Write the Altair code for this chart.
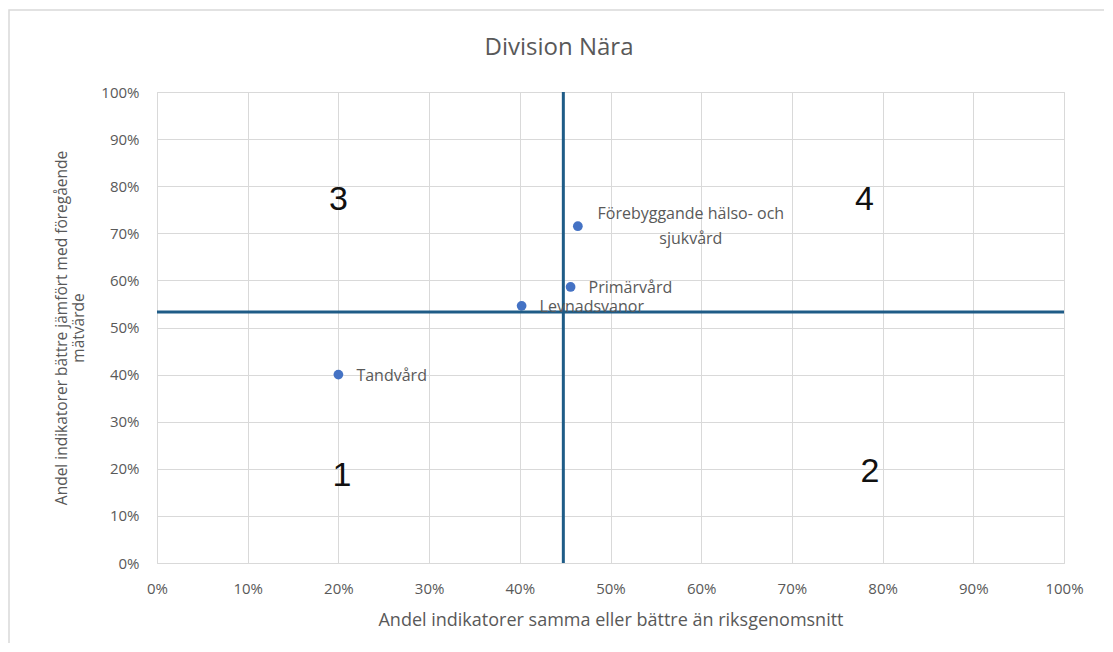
import altair as alt
import pandas as pd

names = ["Tandvård", "Levnadsvanor", "Primärvård", "Förebyggande hälso- och\nsjukvård"]
x_vals = [0.20, 0.402, 0.456, 0.464]
y_vals = [0.40, 0.546, 0.586, 0.715]

ref_x = [0.448]
ref_y = [0.533]

quad_labels = ["1", "2", "3", "4"]
quad_x = [0.204, 0.786, 0.20, 0.78]
quad_y = [0.185, 0.193, 0.77, 0.77]

chart_title = ["Division Nära"]

ticks = [i / 10 for i in range(11)]

df = pd.DataFrame({"name": names, "x": x_vals, "y": y_vals})
simple = df.iloc[:3]
multi = df.iloc[3:]
quad = pd.DataFrame({"q": quad_labels, "x": quad_x, "y": quad_y})
rx = pd.DataFrame({"x": ref_x})
ry = pd.DataFrame({"y": ref_y})
tdf = pd.DataFrame({"t": chart_title})

FONT = "Open Sans"
GREY = "#595959"

xs = alt.Scale(domain=[0, 1], nice=False)
ys = alt.Scale(domain=[0, 1], nice=False)

X = alt.X("x:Q", scale=xs, axis=alt.Axis(
    values=ticks, format=".0%", title="Andel indikatorer samma eller bättre än riksgenomsnitt",
    labelPadding=18, titlePadding=15, grid=True, titleFontSize=18, labelFlush=False))
Y = alt.Y("y:Q", scale=ys, axis=alt.Axis(
    values=ticks, format=".0%", title=["Andel indikatorer bättre jämfört med föregående", "mätvärde"],
    labelPadding=18, titlePadding=14, grid=True, titleFontSize=15.5, labelFlush=False))

frame = alt.Chart(rx).mark_rect(fill=None, stroke="#d9d9d9", strokeWidth=1.5).encode(
    x=alt.value(-148), x2=alt.value(951), y=alt.value(-82), y2=alt.value(570))

title = alt.Chart(tdf).mark_text(fontSize=24, font=FONT, color=GREY, align="center",
                                 baseline="middle").encode(
    x=alt.value(402), y=alt.value(-44), text="t:N")

points = alt.Chart(df).mark_circle(size=95, color="#4472c4", opacity=1).encode(x=X, y=Y)

labels = alt.Chart(simple).mark_text(align="left", baseline="middle", dx=18, dy=1,
                                     fontSize=16, font=FONT, color=GREY).encode(
    x="x:Q", y="y:Q", text="name:N")

labels2 = alt.Chart(multi).mark_text(align="center", baseline="middle", dx=113, dy=-12,
                                     lineBreak="\n", lineHeight=25,
                                     fontSize=16, font=FONT, color=GREY).encode(
    x="x:Q", y="y:Q", text="name:N")

vline = alt.Chart(rx).mark_rule(color="#1f5c87", strokeWidth=3).encode(x="x:Q")
hline = alt.Chart(ry).mark_rule(color="#1f5c87", strokeWidth=3).encode(y="y:Q")

quads = alt.Chart(quad).mark_text(fontSize=34, font="Liberation Sans", color="#111111",
                                  baseline="middle", align="center").encode(
    x="x:Q", y="y:Q", text="q:N")

chart = alt.layer(frame, title, points, vline, hline, labels, labels2, quads).properties(
    width=907, height=471,
    autosize=alt.AutoSizeParams(type="none"),
    padding={"left": 149, "top": 84, "right": 40, "bottom": 80},
).configure_view(stroke="#d9d9d9").configure_axis(
    gridColor="#d9d9d9", domain=False, ticks=False,
    labelFont=FONT, labelFontSize=15, labelColor=GREY,
    titleFont=FONT, titleColor=GREY, titleFontWeight="normal",
)

chart.save("out.html", embed_options={"renderer": "svg", "actions": False})
